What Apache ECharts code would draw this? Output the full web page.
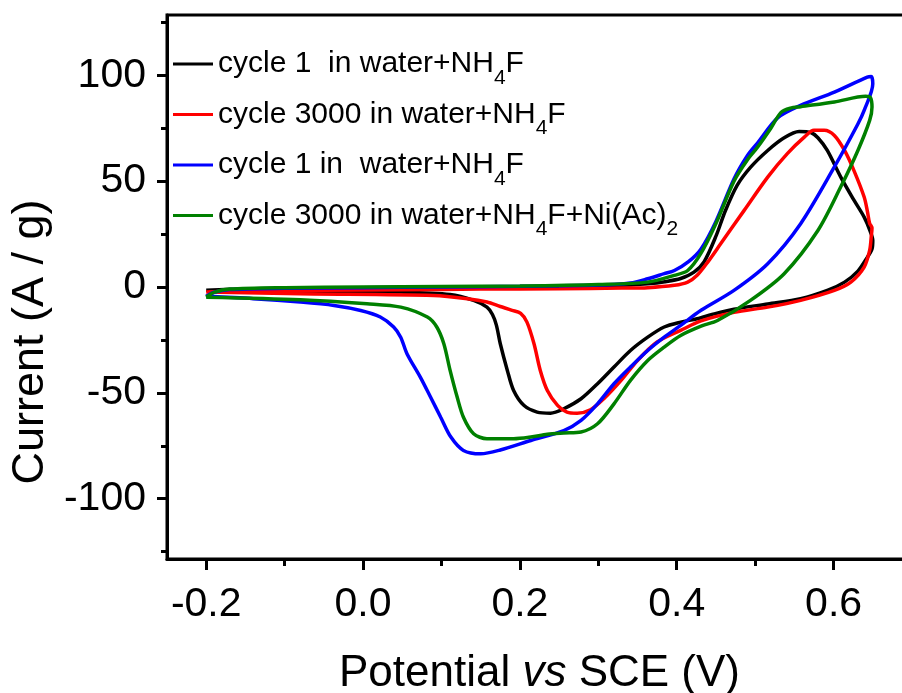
<!DOCTYPE html>
<html>
<head>
<meta charset="utf-8">
<title>Cyclic voltammetry</title>
<script src="https://cdn.jsdelivr.net/npm/echarts@6/dist/echarts.min.js"></script>
<style>
  html, body { margin: 0; padding: 0; background: #ffffff; }
  #chart { width: 902px; height: 693px; }
</style>
</head>
<body>
<div id="chart"></div>
<script>
// Series labels (legend) and colours
const seriesNames = [
  'cycle 1  in water+NH4F',
  'cycle 3000 in water+NH4F',
  'cycle 1 in  water+NH4F',
  'cycle 3000 in water+NH4F+Ni(Ac)2'
];
const seriesColors = ['#000000', '#ff0000', '#0000ff', '#008000'];

// Axis ticks
const xMajorTicks = [-0.2, 0.0, 0.2, 0.4, 0.6];
const xMinorTicks = [-0.1, 0.1, 0.3, 0.5];
const yMajorTicks = [-100, -50, 0, 50, 100];
const yMinorTicks = [-125, -75, -25, 25, 75, 125];

// Each CV loop: anodic (forward) scan from -0.2 V to 0.65 V, then cathodic (reverse) scan back.
// Points are [potential (V), current (A/g)].
const cycle1Forward = [
  [-0.2, -1.5], [-0.15, -1.0], [-0.05, -0.8], [0.05, -0.6], [0.15, -0.3], [0.25, 0.0],
  [0.3, 0.5], [0.34, 1.0], [0.363, 1.5], [0.385, 2.5], [0.405, 4.0], [0.422, 7.0],
  [0.435, 12], [0.45, 24], [0.462, 36], [0.477, 48], [0.494, 56.5], [0.516, 64.5],
  [0.537, 70.5], [0.556, 73.5], [0.571, 73], [0.58, 70.5], [0.592, 64.5], [0.609, 52],
  [0.626, 41], [0.639, 33], [0.646, 27], [0.65, 22]
];
const cycle1Reverse = [
  [0.649, 18], [0.643, 14], [0.631, 7.5], [0.614, 2.3], [0.592, -1.6], [0.558, -5.5],
  [0.516, -8], [0.473, -10.5], [0.445, -13], [0.426, -15], [0.405, -16.6], [0.384, -18.9],
  [0.363, -23.7], [0.341, -30], [0.32, -37.8], [0.299, -45.7], [0.278, -52.8], [0.256, -57.5],
  [0.239, -59.6], [0.222, -59.1], [0.205, -55.9], [0.192, -48.9], [0.184, -39.4], [0.175, -26.8],
  [0.17, -18], [0.165, -13], [0.158, -9.5], [0.141, -6.3], [0.111, -3.5], [0.048, -2.4],
  [-0.08, -1.9], [-0.2, -1.5]
];

const cycle3000Forward = [
  [-0.2, -2.4], [-0.15, -1.8], [-0.05, -1.5], [0.05, -1.3], [0.15, -1.0], [0.25, -0.8],
  [0.33, -0.5], [0.363, -0.3], [0.397, 0.8], [0.414, 2.3], [0.426, 5.5], [0.44, 12],
  [0.456, 20.4], [0.486, 36.2], [0.516, 51.9], [0.541, 63], [0.563, 70.9], [0.575, 74],
  [0.588, 74], [0.601, 71.6], [0.614, 64.5], [0.626, 55], [0.639, 42.5], [0.643, 36],
  [0.646, 30], [0.649, 28]
];
const cycle3000Reverse = [
  [0.648, 23.6], [0.646, 17.3], [0.639, 9.4], [0.622, 2.3], [0.601, -1.6], [0.558, -6.3],
  [0.516, -9.5], [0.473, -12], [0.431, -16], [0.405, -20.5], [0.375, -26], [0.35, -34.7],
  [0.329, -44.1], [0.307, -52.8], [0.29, -58], [0.273, -59.6], [0.26, -59.1], [0.248, -55.9],
  [0.235, -48.9], [0.226, -39.4], [0.218, -26.8], [0.209, -16.6], [0.201, -12.5], [0.19, -11],
  [0.175, -9.2], [0.158, -7.1], [0.133, -5.5], [0.09, -4.0], [-0.08, -3.2], [-0.2, -2.4]
];

const cycle1bForward = [
  [-0.2, -4.4], [-0.19, -2.5], [-0.17, -1.2], [-0.1, -0.6], [0.0, -0.3], [0.1, 0.0],
  [0.2, 0.3], [0.3, 0.9], [0.341, 1.9], [0.363, 3.9], [0.384, 6.3], [0.397, 7.8],
  [0.415, 12], [0.431, 18], [0.45, 31], [0.473, 51], [0.49, 62], [0.503, 68],
  [0.529, 80], [0.558, 85.8], [0.601, 92.1], [0.643, 99.2], [0.648, 99.5]
];
const cycle1bReverse = [
  [0.65, 96], [0.639, 83.4], [0.631, 77], [0.601, 56.7], [0.558, 29.9], [0.516, 11],
  [0.473, -1.6], [0.431, -11], [0.405, -18.1], [0.384, -23.7], [0.363, -30], [0.341, -37.8],
  [0.32, -45.7], [0.299, -55.2], [0.278, -63], [0.256, -67.8], [0.214, -72.5], [0.175, -77],
  [0.15, -78.8], [0.128, -77.2], [0.112, -70.9], [0.099, -61.5], [0.086, -52], [0.073, -42.6],
  [0.056, -31.5], [0.048, -23.7], [0.039, -18.9], [0.022, -14.2], [-0.003, -11.1], [-0.037, -8.7],
  [-0.08, -7.1], [-0.14, -5.5], [-0.2, -4.4]
];

const cycleNiForward = [
  [-0.2, -4.8], [-0.19, -2.5], [-0.17, -1.0], [-0.1, -0.3], [0.0, 0.0], [0.1, 0.2],
  [0.2, 0.5], [0.3, 1.2], [0.363, 2.3], [0.397, 5.5], [0.414, 7.8], [0.431, 16],
  [0.45, 30], [0.473, 50], [0.49, 60], [0.503, 66], [0.52, 75], [0.533, 82.5],
  [0.545, 84.5], [0.558, 85.2], [0.601, 87.4], [0.641, 90.1], [0.647, 89.5]
];
const cycleNiReverse = [
  [0.649, 85], [0.646, 78.7], [0.631, 64.5], [0.609, 47.2], [0.58, 26.7], [0.537, 6.3],
  [0.494, -6.3], [0.452, -15.8], [0.431, -18.5], [0.405, -22.9], [0.384, -28.4], [0.363, -34.7],
  [0.341, -44.1], [0.32, -55.2], [0.299, -64.6], [0.278, -68.5], [0.256, -69], [0.235, -69.6],
  [0.214, -70.9], [0.192, -71.7], [0.158, -71.7], [0.141, -69.3], [0.128, -61.5], [0.12, -52],
  [0.111, -39.4], [0.103, -26.8], [0.094, -18.9], [0.082, -14.2], [0.048, -9.5], [0.005, -7.9],
  [-0.08, -6.0], [-0.2, -4.8]
];

const loops = [
  cycle1Forward.concat(cycle1Reverse),
  cycle3000Forward.concat(cycle3000Reverse),
  cycle1bForward.concat(cycle1bReverse),
  cycleNiForward.concat(cycleNiReverse)
];

const FONT = 'Liberation Sans, Arial, sans-serif';
const X_MIN = -0.25, X_MAX = 0.7;
const Y_MIN = -128.5, Y_MAX = 128.5;
const axisStroke = { color: '#000', width: 3 };

const chart = echarts.init(document.getElementById('chart'), null, { renderer: 'canvas' });

chart.setOption({
  animation: false,
  backgroundColor: '#ffffff',
  grid: {
    left: 167, right: -10, top: 15, bottom: 134,
    outerBoundsMode: 'none',
    containLabel: false,
    show: true, borderColor: '#000', borderWidth: 3, backgroundColor: 'transparent'
  },
  legend: {
    orient: 'vertical',
    left: 173,
    top: 49,
    padding: 0,
    icon: 'rect',
    itemWidth: 40,
    itemHeight: 3,
    itemGap: 11,
    selectedMode: false,
    data: seriesNames,
    formatter: function (name) {
      return name.replace('NH4', 'NH{s|4}').replace(/\)2$/, '){s|2}');
    },
    textStyle: {
      fontFamily: FONT,
      fontSize: 30,
      color: '#000',
      rich: {
        s: { fontFamily: FONT, fontSize: 21, color: '#000', padding: [28, 0, 0, 0] }
      }
    }
  },
  xAxis: [
    {
      type: 'value',
      min: X_MIN, max: X_MAX,
      position: 'bottom',
      name: '{a|Potential }{b|vs}{a| SCE (V)}',
      nameLocation: 'middle',
      nameGap: 93,
      nameTextStyle: {
        fontFamily: FONT, fontSize: 44, color: '#000',
        rich: {
          a: { fontFamily: FONT, fontSize: 44, color: '#000' },
          b: { fontFamily: FONT, fontSize: 44, color: '#000', fontStyle: 'italic' }
        }
      },
      axisLine: { show: true, onZero: false, lineStyle: axisStroke },
      axisTick: { show: true, customValues: xMajorTicks, length: 11, lineStyle: axisStroke },
      axisLabel: {
        customValues: xMajorTicks,
        formatter: function (v) { return Number(v).toFixed(1); },
        fontFamily: FONT, fontSize: 41, color: '#000', margin: 25
      },
      splitLine: { show: false }
    },
    {
      type: 'value',
      min: X_MIN, max: X_MAX,
      position: 'bottom',
      axisLine: { show: false, onZero: false },
      axisTick: { show: true, customValues: xMinorTicks, length: 7, lineStyle: axisStroke },
      axisLabel: { show: false },
      splitLine: { show: false }
    }
  ],
  yAxis: [
    {
      type: 'value',
      min: Y_MIN, max: Y_MAX,
      position: 'left',
      name: 'Current (A / g)',
      nameLocation: 'middle',
      nameGap: 109,
      nameTextStyle: {
        fontFamily: FONT, fontSize: 45, color: '#000', padding: [0, 110, 0, 0]
      },
      axisLine: { show: true, onZero: false, lineStyle: axisStroke },
      axisTick: { show: true, customValues: yMajorTicks, length: 10, lineStyle: axisStroke },
      axisLabel: {
        customValues: yMajorTicks,
        fontFamily: FONT, fontSize: 41, color: '#000', margin: 21
      },
      splitLine: { show: false }
    },
    {
      type: 'value',
      min: Y_MIN, max: Y_MAX,
      position: 'left',
      axisLine: { show: false, onZero: false },
      axisTick: { show: true, customValues: yMinorTicks, length: 6, lineStyle: axisStroke },
      axisLabel: { show: false },
      splitLine: { show: false }
    }
  ],
  series: loops.map(function (pts, i) {
    return {
      name: seriesNames[i],
      type: 'line',
      xAxisIndex: 0,
      yAxisIndex: 0,
      data: pts,
      color: seriesColors[i],
      showSymbol: false,
      symbol: 'none',
      smooth: 0.3,
      lineStyle: { width: 3.5, color: seriesColors[i] },
      z: 2 + i
    };
  })
});
</script>
</body>
</html>
